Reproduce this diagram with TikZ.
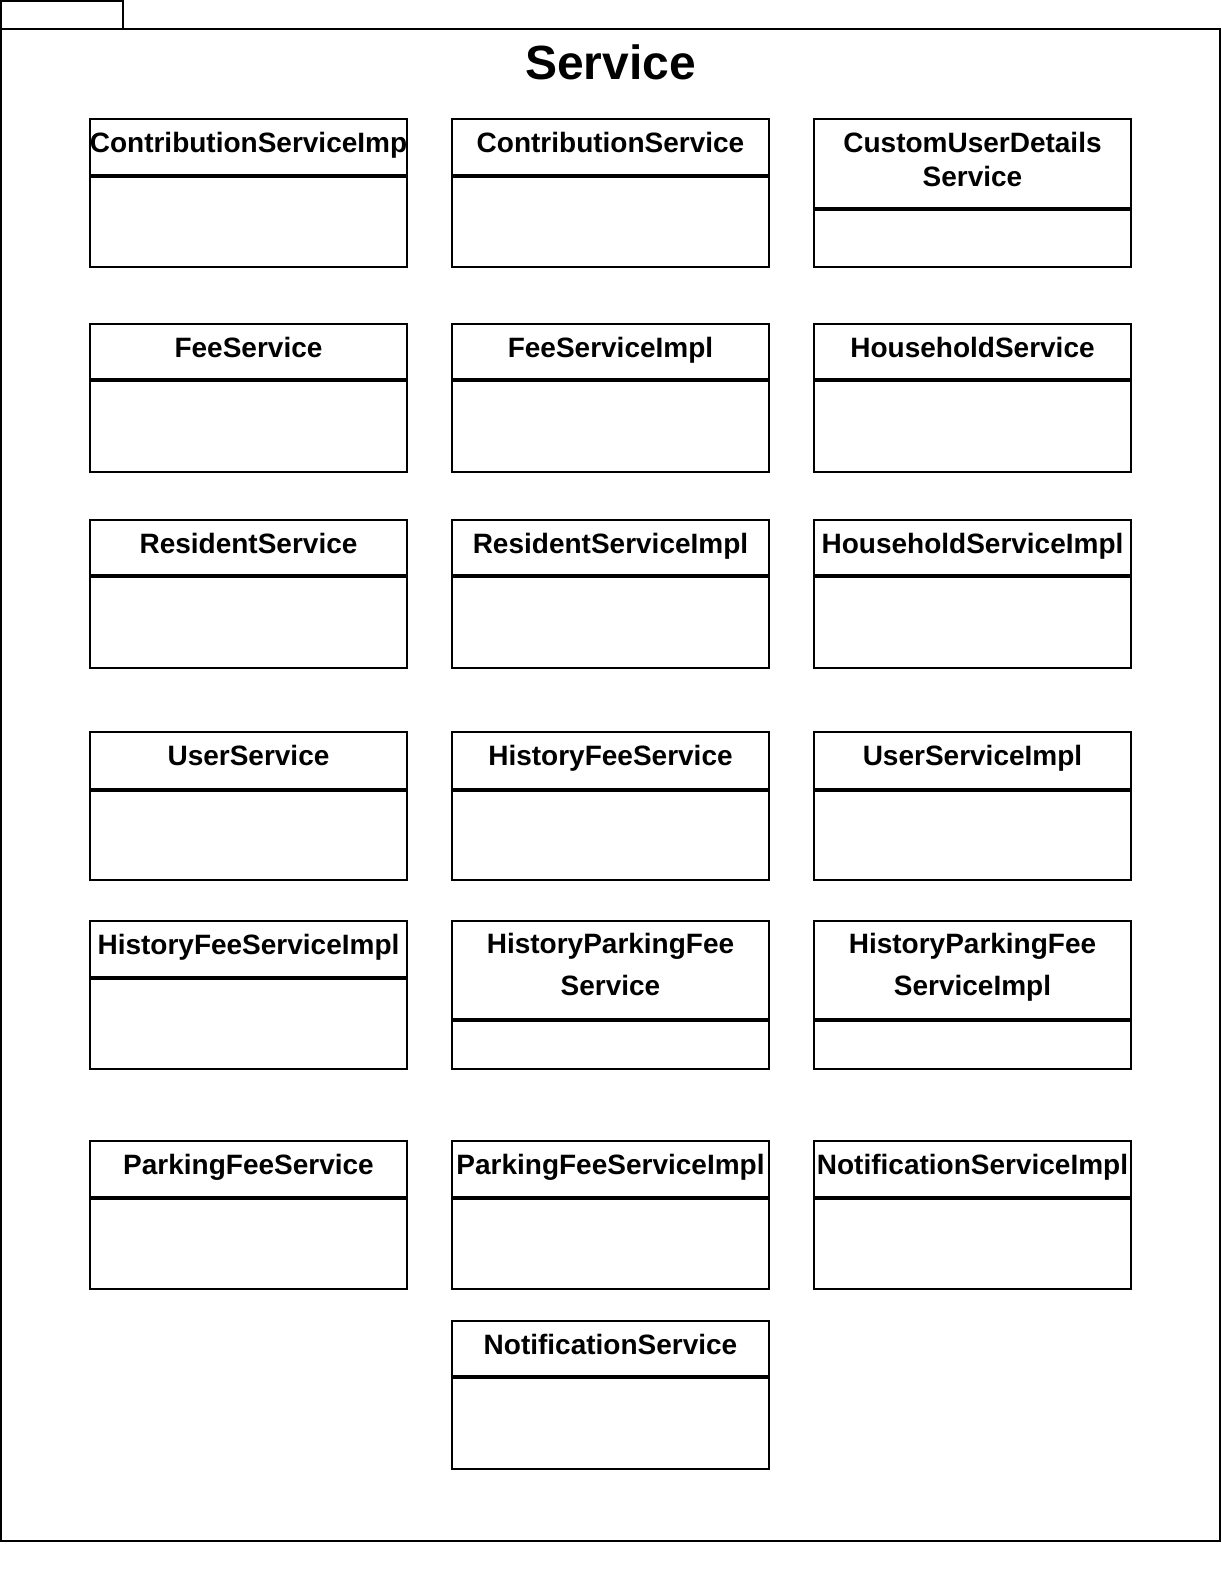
\documentclass[tikz,border=0pt]{standalone}
\usepackage{fontspec}
\setmainfont{Liberation Sans}
\begin{document}
\begin{tikzpicture}[x=1pt,y=-1pt,
  frameline/.style={draw=black,line width=2pt,inner sep=0pt,outer sep=0pt,anchor=north west},
  classbox/.style={draw=black,line width=2pt,minimum width=317pt,minimum height=148pt,inner sep=0pt,outer sep=0pt,anchor=north west},
  divider/.style={line width=4pt},
  classname/.style={anchor=base,inner sep=0pt,font=\fontsize{28}{33}\selectfont\bfseries},
  titlestyle/.style={anchor=base,inner sep=0pt,font=\fontsize{48}{56}\selectfont\bfseries}]
\useasboundingbox (0,0) rectangle (1222,1582);
% package frame
\node[frameline,minimum width=122pt,minimum height=28pt] (tab) at (1,1) {};
\node[frameline,minimum width=1219pt,minimum height=1512pt] (pkg) at (1,29) {};
\node[titlestyle] (title) at (610.5,79) {Service};
% class macro: name, x, y, divider offset, text
\newcommand\umlcls[5]{%
  \node[classbox] (#1) at (#2,#3) {};
  \draw[divider] ([yshift=-#4pt]#1.north west) -- ([yshift=-#4pt]#1.north east);
  \node[classname] (#1-t) at ([yshift=-33pt]#1.north) {#5};
}
% row 1
\umlcls{c11}{90}{119}{57}{ContributionServiceImp}
\umlcls{c12}{452}{119}{57}{ContributionService}
\node[classbox] (c13) at (814,119) {};
\draw[divider] ([yshift=-90pt]c13.north west) -- ([yshift=-90pt]c13.north east);
\node[classname] (c13-t) at ([yshift=-33pt]c13.north) {CustomUserDetails};
\node[classname] (c13-u) at ([yshift=-67pt]c13.north) {Service};
% row 2
\umlcls{c21}{90}{324}{56}{FeeService}
\umlcls{c22}{452}{324}{56}{FeeServiceImpl}
\umlcls{c23}{814}{324}{56}{HouseholdService}
% row 3
\umlcls{c31}{90}{520}{56}{ResidentService}
\umlcls{c32}{452}{520}{56}{ResidentServiceImpl}
\umlcls{c33}{814}{520}{56}{HouseholdServiceImpl}
% row 4
\umlcls{c41}{90}{732}{58}{UserService}
\umlcls{c42}{452}{732}{58}{HistoryFeeService}
\umlcls{c43}{814}{732}{58}{UserServiceImpl}
% row 5
\umlcls{c51}{90}{921}{57}{HistoryFeeServiceImpl}
\node[classbox] (c52) at (452,921) {};
\draw[divider] ([yshift=-99pt]c52.north west) -- ([yshift=-99pt]c52.north east);
\node[classname] (c52-t) at ([yshift=-32pt]c52.north) {HistoryParkingFee};
\node[classname] (c52-u) at ([yshift=-74pt]c52.north) {Service};
\node[classbox] (c53) at (814,921) {};
\draw[divider] ([yshift=-99pt]c53.north west) -- ([yshift=-99pt]c53.north east);
\node[classname] (c53-t) at ([yshift=-32pt]c53.north) {HistoryParkingFee};
\node[classname] (c53-u) at ([yshift=-74pt]c53.north) {ServiceImpl};
% row 6
\umlcls{c61}{90}{1141}{57}{ParkingFeeService}
\umlcls{c62}{452}{1141}{57}{ParkingFeeServiceImpl}
\umlcls{c63}{814}{1141}{57}{NotificationServiceImpl}
% row 7
\umlcls{c72}{452}{1321}{56}{NotificationService}
\end{tikzpicture}
\end{document}
